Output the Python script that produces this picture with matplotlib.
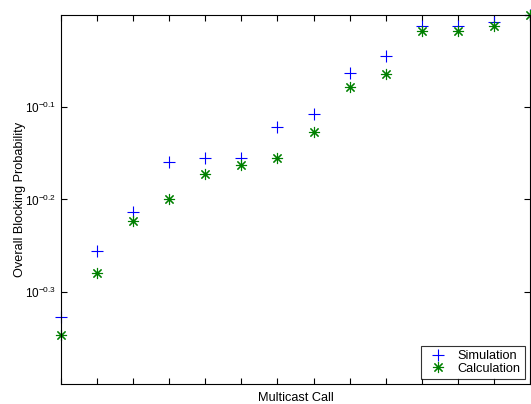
import matplotlib
matplotlib.use("Agg")
import matplotlib.pyplot as plt
import numpy as np

plt.rcParams['font.family'] = ['Liberation Sans', 'DejaVu Sans']
plt.rcParams['mathtext.fontset'] = 'custom'
plt.rcParams['mathtext.rm'] = 'Liberation Sans'
plt.rcParams['mathtext.it'] = 'Liberation Sans:italic'

calls = list(range(1, 15))
simulation = [0.470, 0.555, 0.611, 0.693, 0.700, 0.700, 0.757,
              0.781, 0.866, 0.902, 0.972, 0.972, 0.982, 1.000]
calculation = [0.450, 0.525, 0.598, 0.632, 0.673, 0.687, 0.700,
               0.746, 0.836, 0.864, 0.961, 0.961, 0.973, 1.000]
ytick_exps = [-0.3, -0.2, -0.1]

fig = plt.figure(figsize=(5.31, 4.04), dpi=100)
ax = fig.add_axes([61 / 531, 20 / 404, 469 / 531, 369 / 404])

ax.plot(calls, simulation, linestyle='none', marker='+', color=(0, 0, 1),
        markersize=8, markeredgewidth=0.8, label='Simulation', clip_on=False)
ax.plot(calls, calculation, linestyle='none', marker=(8, 2, 0), color=(0, 0.5, 0),
        markersize=8, markeredgewidth=0.8, label='Calculation', clip_on=False)

ax.set_yscale('log')
ax.set_xlim(1, 14)
ax.set_ylim(10 ** -0.4, 1.0)
ax.set_xticks(calls)
ax.set_xticklabels([])
ax.set_yticks([10 ** e for e in ytick_exps])
ax.set_yticklabels([r'$10^{%s}$' % e for e in ytick_exps])
ax.yaxis.set_minor_locator(matplotlib.ticker.NullLocator())
ax.tick_params(direction='in', length=4, width=0.8, top=True, right=True,
               labelsize=8.5, colors='black')
for s in ax.spines.values():
    s.set_linewidth(0.8)

ax.set_xlabel('Multicast Call', fontsize=9.2, labelpad=2)
ax.set_ylabel('Overall Blocking Probability', fontsize=9.2, labelpad=-1)

leg = ax.legend(loc='lower right', fontsize=9.2, frameon=True, fancybox=False,
                edgecolor='black', borderpad=0.3, labelspacing=0.05,
                handlelength=2.0, handletextpad=0.55, borderaxespad=0.42)
leg.get_frame().set_linewidth(0.8)

fig.savefig('out.png', dpi=100)
